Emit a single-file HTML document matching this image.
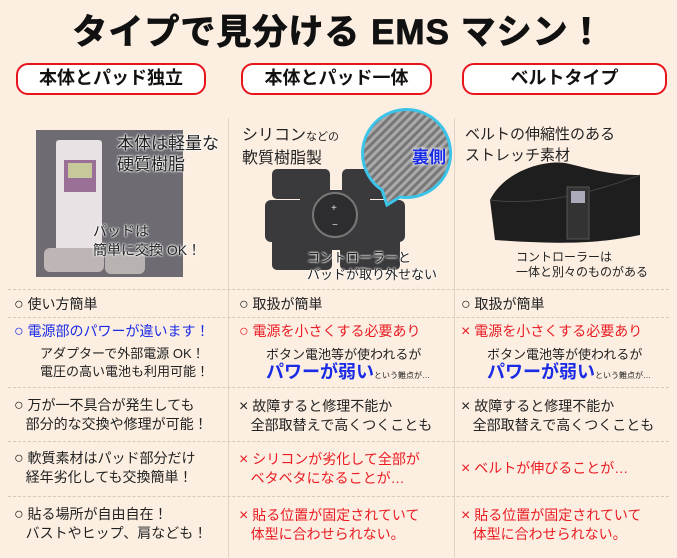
<!DOCTYPE html>
<html><head><meta charset="utf-8"><style>
*{margin:0;padding:0;box-sizing:border-box}
body{width:677px;height:558px;overflow:hidden;background:#fcefe2;font-family:"Liberation Sans","Noto Sans CJK JP",sans-serif;position:relative;color:#222}
.a{position:absolute;white-space:nowrap}
.pill{position:absolute;top:63px;height:32px;border:2.5px solid #e8141c;border-radius:12px;background:#fff;font-weight:bold;font-size:18px;text-align:center;line-height:27px;color:#111}
.vl{position:absolute;top:118px;bottom:0;border-left:1px solid #e2d4c4}
.hl{position:absolute;left:8px;right:8px;border-top:1px dashed #d8c8b6}
.t{font-size:14px;line-height:18px}
.r{color:#ea1b22}.b{color:#1a2be6}
.ol{color:#222;text-shadow:0 0 2px #fff,0 0 2px #fff,0 0 2px #fff}
.o{font-size:16px}
</style></head><body>
<div class="a" style="left:0;width:677px;top:4px;text-align:center;font-size:35px;font-weight:bold;color:#111;letter-spacing:1px;-webkit-text-stroke:0.8px #111">タイプで見分ける EMS マシン！</div>
<div class="pill" style="left:16px;width:190px">本体とパッド独立</div>
<div class="pill" style="left:241px;width:191px">本体とパッド一体</div>
<div class="pill" style="left:462px;width:205px">ベルトタイプ</div>
<div class="vl" style="left:228px"></div><div class="vl" style="left:454px"></div>
<!-- col1 photo -->
<div class="a" style="left:36px;top:130px;width:147px;height:147px;background:#6e6c72"></div>
<div class="a" style="left:56px;top:140px;width:46px;height:130px;background:#e8e2e4;border-radius:3px"></div>
<div class="a" style="left:64px;top:160px;width:32px;height:32px;background:#9a6f98"></div>
<div class="a" style="left:68px;top:163px;width:24px;height:15px;background:#c8c99a"></div>
<div class="a" style="left:44px;top:248px;width:60px;height:24px;background:#bdb6b4;border-radius:6px"></div>
<div class="a" style="left:105px;top:252px;width:40px;height:22px;background:#b8b2b0;border-radius:6px"></div>
<div class="a ol" style="left:117px;top:133px;font-size:17px;line-height:21px">本体は軽量な<br>硬質樹脂</div>
<div class="a ol" style="left:93px;top:222px;font-size:14px;line-height:19px">パッドは<br>簡単に交換 OK！</div>
<!-- col2 -->
<div class="a" style="left:242px;top:125px;font-size:16px;line-height:21px">シリコン<span style="font-size:11px">などの</span><br>軟質樹脂製</div>
<svg class="a" style="left:260px;top:105px" width="195" height="175">
<rect x="12" y="64" width="58" height="30" rx="5" fill="#3a3a3c"/>
<rect x="82" y="64" width="58" height="30" rx="5" fill="#3a3a3c"/>
<rect x="5" y="95" width="140" height="42" rx="6" fill="#3a3a3c"/>
<rect x="12" y="130" width="60" height="35" rx="5" fill="#3a3a3c"/>
<rect x="80" y="130" width="60" height="35" rx="5" fill="#3a3a3c"/>
<rect x="40" y="85" width="70" height="60" fill="#3a3a3c"/>
<circle cx="75" cy="110" r="22" fill="#2d2d2f" stroke="#777" stroke-width="2"/>
<text x="71" y="106" fill="#ddd" font-size="10" font-family="Liberation Sans">+</text>
<text x="72" y="123" fill="#ddd" font-size="10" font-family="Liberation Sans">−</text>
<defs><pattern id="p" width="6" height="6" patternUnits="userSpaceOnUse" patternTransform="rotate(45)"><rect width="6" height="6" fill="#777"/><rect width="3" height="6" fill="#aaa"/></pattern></defs>
<path d="M127 100L122 85A44 44 0 1 1 140 92z" fill="url(#p)" stroke="#3cc3e8" stroke-width="3"/>
</svg>
<div class="a b" style="left:412px;top:143px;font-size:17px;font-weight:bold;text-shadow:0 0 3px #fff,0 0 3px #fff">裏側</div>
<div class="a ol" style="left:307px;top:249px;font-size:13px;line-height:17px">コントローラーと<br>パッドが取り外せない</div>
<!-- col3 -->
<div class="a" style="left:465px;top:124px;font-size:15px;line-height:21px">ベルトの伸縮性のある<br>ストレッチ素材</div>
<svg class="a" style="left:485px;top:155px" width="160" height="95">
<path d="M5 45C20 15 60 5 80 8c20 4 40 12 75 12v60c-40 8-70 10-145 5z" fill="#1e1e1e"/>
<path d="M5 45c40 5 90-2 150-25" stroke="#444" fill="none"/>
<rect x="82" y="32" width="22" height="52" fill="#333" stroke="#555"/>
<rect x="86" y="36" width="14" height="12" fill="#aab"/>
</svg>
<div class="a" style="left:516px;top:250px;font-size:12px;line-height:15px">コントローラーは<br>一体と別々のものがある</div>
<!-- rows -->
<div class="hl" style="top:289px"></div><div class="hl" style="top:317px"></div><div class="hl" style="top:387px"></div><div class="hl" style="top:441px"></div><div class="hl" style="top:496px"></div>
<div class="a t" style="left:14px;top:295px"><span class="o">○</span> 使い方簡単</div>
<div class="a t" style="left:239px;top:295px"><span class="o">○</span> 取扱が簡単</div>
<div class="a t" style="left:461px;top:295px"><span class="o">○</span> 取扱が簡単</div>
<div class="a t b" style="left:14px;top:322px"><span class="o">○</span> 電源部のパワーが違います！</div>
<div class="a" style="left:40px;top:345px;font-size:13px;line-height:18px">アダプターで外部電源 OK！<br>電圧の高い電池も利用可能！</div>
<div class="a t r" style="left:239px;top:322px"><span class="o">○</span> 電源を小さくする必要あり</div>
<div class="a" style="left:266px;top:344px;font-size:13px">ボタン電池等が使われるが</div>
<div class="a b" style="left:266px;top:358px;font-size:18px;font-weight:bold">パワーが弱い<span style="font-size:8px;color:#222;font-weight:normal">という難点が…</span></div>
<div class="a t r" style="left:461px;top:322px"><span class="o">×</span> 電源を小さくする必要あり</div>
<div class="a" style="left:487px;top:344px;font-size:13px">ボタン電池等が使われるが</div>
<div class="a b" style="left:487px;top:358px;font-size:18px;font-weight:bold">パワーが弱い<span style="font-size:8px;color:#222;font-weight:normal">という難点が…</span></div>
<div class="a t" style="left:14px;top:396px;line-height:19px"><span class="o">○</span> 万が一不具合が発生しても<br>&nbsp;&nbsp;&nbsp;部分的な交換や修理が可能！</div>
<div class="a t" style="left:239px;top:397px;line-height:19px"><span class="o">×</span> 故障すると修理不能か<br>&nbsp;&nbsp;&nbsp;全部取替えで高くつくことも</div>
<div class="a t" style="left:461px;top:397px;line-height:19px"><span class="o">×</span> 故障すると修理不能か<br>&nbsp;&nbsp;&nbsp;全部取替えで高くつくことも</div>
<div class="a t" style="left:14px;top:449px;line-height:19px"><span class="o">○</span> 軟質素材はパッド部分だけ<br>&nbsp;&nbsp;&nbsp;経年劣化しても交換簡単！</div>
<div class="a t r" style="left:239px;top:450px;line-height:19px"><span class="o">×</span> シリコンが劣化して全部が<br>&nbsp;&nbsp;&nbsp;ベタベタになることが…</div>
<div class="a t r" style="left:461px;top:459px"><span class="o">×</span> ベルトが伸びることが…</div>
<div class="a t" style="left:14px;top:505px;line-height:19px"><span class="o">○</span> 貼る場所が自由自在！<br>&nbsp;&nbsp;&nbsp;バストやヒップ、肩なども！</div>
<div class="a t r" style="left:239px;top:506px;line-height:19px"><span class="o">×</span> 貼る位置が固定されていて<br>&nbsp;&nbsp;&nbsp;体型に合わせられない。</div>
<div class="a t r" style="left:461px;top:506px;line-height:19px"><span class="o">×</span> 貼る位置が固定されていて<br>&nbsp;&nbsp;&nbsp;体型に合わせられない。</div>
</body></html>
